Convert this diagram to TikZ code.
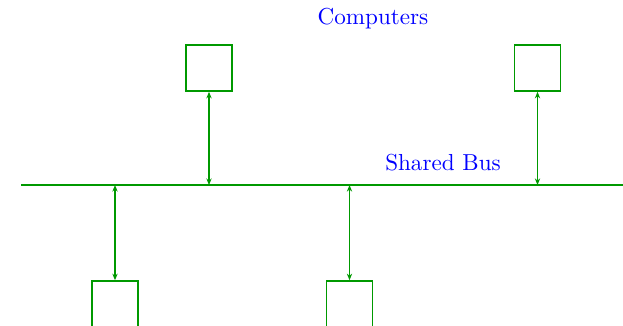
\documentclass[tikz,border=0pt]{standalone}
\usetikzlibrary{arrows.meta}
\begin{document}
\begin{tikzpicture}[x=0.4543pt,y=-0.4543pt,
  bus/.style={draw=green!60!black,line width=1.3pt},
  computer/.style={draw=green!60!black,line width=0.7pt,minimum size=20.9pt,inner sep=0pt,rectangle},
  link/.style={draw=green!60!black,line width=0.6pt,{Stealth[length=3pt,width=2.4pt]}-{Stealth[length=3pt,width=2.4pt]}},
  label/.style={text=blue,font=\fontsize{10.5pt}{12.6pt}\selectfont}]
  \clip (0,0) rectangle (623,325);
  \useasboundingbox (0,0) rectangle (623,325);
  % the shared bus
  \coordinate (busL) at (21,185);
  \coordinate (busR) at (630,185);
  \draw[bus] (busL) -- (busR);
  \coordinate (t1) at (209,185);
  \coordinate (t2) at (537.5,185);
  \coordinate (b1) at (115,185);
  \coordinate (b2) at (349.5,185);
  % computers
  \node[computer] (c1) at (209,68) {};
  \node[computer] (c2) at (537.5,68) {};
  \node[computer] (c3) at (115,304) {};
  \node[computer] (c4) at (349.5,304) {};
  % links to the bus
  \draw[link] (c1.south) -- (t1);
  \draw[link] (c2.south) -- (t2);
  \draw[link] (b1) -- (c3.north);
  \draw[link] (b2) -- (c4.north);
  % labels
  \node[label] (lc) at (373,19) {Computers};
  \node[label] (lb) at (443,163) {Shared Bus};
\end{tikzpicture}
\end{document}
